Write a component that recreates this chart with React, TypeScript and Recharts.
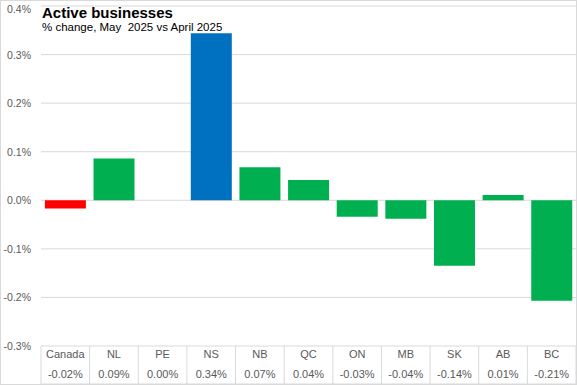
import { BarChart, Bar, XAxis, YAxis, CartesianGrid, Cell } from "recharts"

const regions = ["Canada", "NL", "PE", "NS", "NB", "QC", "ON", "MB", "SK", "AB", "BC"]
const changes = [-0.017, 0.086, 0.0, 0.344, 0.068, 0.042, -0.034, -0.038, -0.135, 0.011, -0.207]
const changeLabels = ["-0.02%", "0.09%", "0.00%", "0.34%", "0.07%", "0.04%", "-0.03%", "-0.04%", "-0.14%", "0.01%", "-0.21%"]
const yTicks = [-0.3, -0.2, -0.1, 0, 0.1, 0.2, 0.3, 0.4]

const W = 577
const H = 385
const Y_AXIS_W = 41
const X_AXIS_H = 39
const PLOT_BOTTOM = H - X_AXIS_H
const bandWidth = (W - Y_AXIS_W - 1) / regions.length

const data = regions.map((region, i) => ({
  region,
  value: changes[i],
  label: changeLabels[i],
}))

function barColor(region: string) {
  if (region === "Canada") return "#ff0000"
  if (region === "NS") return "#0070c0"
  return "#00b050"
}

// category table under the plot: name row + value row with cell borders
function TableTick(props: any) {
  const { x, payload, index } = props
  const left = x - bandWidth / 2
  const right = x + bandWidth / 2
  const isLast = index === regions.length - 1
  return (
    <g>
      <line x1={left} y1={PLOT_BOTTOM} x2={left} y2={H} stroke="#d9d9d9" />
      {isLast && <line x1={right} y1={PLOT_BOTTOM} x2={right} y2={H} stroke="#d9d9d9" />}
      <line x1={left} y1={H - 1} x2={right} y2={H - 1} stroke="#d9d9d9" />
      <text x={x} y={PLOT_BOTTOM + 12} textAnchor="middle" fontSize={11} fill="#595959">
        {payload.value}
      </text>
      <text x={x} y={PLOT_BOTTOM + 32} textAnchor="middle" fontSize={11} fill="#595959">
        {changeLabels[index]}
      </text>
    </g>
  )
}

function PctTick(props: any) {
  const { y, payload } = props
  return (
    <text x={31} y={y + 4} textAnchor="end" fontSize={10.5} fill="#595959">
      {`${payload.value.toFixed(1)}%`}
    </text>
  )
}

export default function App() {
  return (
    <div
      style={{
        position: "absolute",
        top: 0,
        left: 0,
        width: W,
        height: H,
        fontFamily: "'Liberation Sans', Arial, sans-serif",
        background: "#fff",
      }}
    >
      <BarChart
        width={W}
        height={H}
        data={data}
        margin={{ top: 6, right: 1, bottom: 0, left: 0 }}
        barCategoryGap="8%"
      >
        <CartesianGrid vertical={false} stroke="#d9d9d9" />
        <XAxis
          dataKey="region"
          height={X_AXIS_H}
          axisLine={false}
          tickLine={false}
          interval={0}
          tick={<TableTick />}
        />
        <YAxis
          width={Y_AXIS_W}
          domain={[-0.3, 0.4]}
          ticks={yTicks}
          axisLine={false}
          tickLine={false}
          tick={<PctTick />}
        />
        <Bar dataKey="value" isAnimationActive={false}>
          {data.map((d) => (
            <Cell key={d.region} fill={barColor(d.region)} />
          ))}
        </Bar>
      </BarChart>
      <div
        style={{
          position: "absolute",
          left: 42,
          top: 4,
          fontSize: 15,
          fontWeight: "bold",
          color: "#000",
        }}
      >
        Active businesses
      </div>
      <div style={{ position: "absolute", left: 42, top: 21, fontSize: 11.5, color: "#000" }}>
        % change, May&nbsp; 2025 vs April 2025
      </div>
      <div
        style={{
          position: "absolute",
          left: 0,
          top: 0,
          width: W - 2,
          height: H - 2,
          border: "1px solid #d9d9d9",
          pointerEvents: "none",
        }}
      />
    </div>
  )
}
